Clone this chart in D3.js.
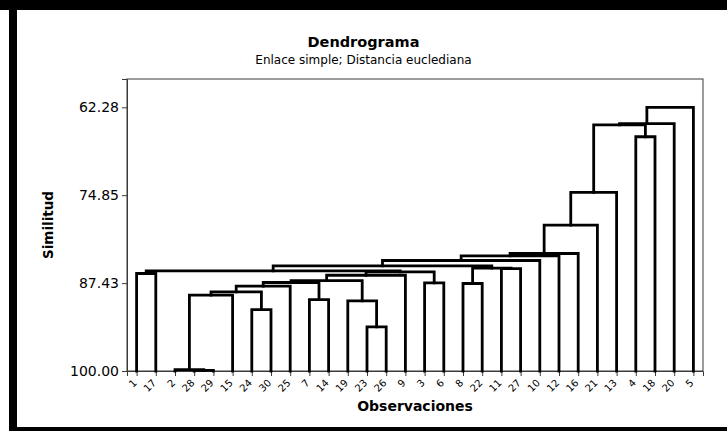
<!DOCTYPE html>
<html>
<head>
<meta charset="utf-8">
<script src="https://cdn.jsdelivr.net/npm/d3@7"></script>
<style>
  html, body { margin: 0; padding: 0; background: #fff; }
  svg { display: block; }
</style>
</head>
<body>
<svg id="chart" width="727" height="431"></svg>
<script>
// ---------------- data ----------------
const leafOrder = ["1","17","2","28","29","15","24","30","25","7","14","19","23","26","9","3","6","8","22","11","27","10","12","16","21","13","4","18","20","5"];
// merges: children are leaf labels or "#k" (k = 1-based merge index)
const mergeLeft  = ["28","2","23","24","19","7","#2","#7","#8","8","3","#9","#12","#13","1","#14","#15","11","#10","#17","#20","#21","#22","#23","#24","4","#25","#27","#28"];
const mergeRight = ["29","#1","26","30","#3","14","15","#4","25","22","6","#6","#5","9","17","#11","#16","27","#18","#19","10","12","16","21","13","18","#26","20","5"];
const mergeSimilarity = [99.9,99.8,93.70,91.21,89.98,89.78,89.16,88.69,87.87,87.48,87.40,87.34,87.08,86.30,86.05,85.82,85.68,85.36,85.29,84.96,84.19,83.53,83.19,79.13,74.45,66.49,64.79,64.60,62.28];
const yTickValues = [62.28, 74.85, 87.43, 100.00];
const yTickLabels = ["62.28", "74.85", "87.43", "100.00"];
const titleText = "Dendrograma";
const subtitleText = "Enlace simple; Distancia euclediana";
const xTitle = "Observaciones";
const yTitle = "Similitud";

// ---------------- layout ----------------
const W = 727, H = 431;
const plot = {left: 127, right: 703, top: 79, bottom: 371};
const svg = d3.select("#chart");
const font = "'DejaVu Sans', Verdana, sans-serif";

// outer black border (top, left, bottom)
const border = svg.append("g").attr("fill", "#000");
border.append("rect").attr("x", 0).attr("y", 0).attr("width", W).attr("height", 10);
border.append("rect").attr("x", 9).attr("y", 0).attr("width", 8).attr("height", H);
border.append("rect").attr("x", 9).attr("y", 427).attr("width", W - 9).attr("height", 4);

const x = d3.scalePoint().domain(leafOrder).range([plot.left, plot.right]).padding(0.5);
const y = d3.scaleLinear().domain([100, 58.23]).range([plot.bottom, plot.top]);

// frame
svg.append("rect")
  .attr("x", plot.left).attr("y", plot.top)
  .attr("width", plot.right - plot.left).attr("height", plot.bottom - plot.top)
  .attr("fill", "none").attr("stroke", "#3a3a3a").attr("stroke-width", 1);

// y axis
const yAxis = d3.axisLeft(y).tickValues(yTickValues).tickSize(5).tickPadding(3)
  .tickFormat((d, i) => yTickLabels[i]);
const gy = svg.append("g").attr("transform", `translate(${plot.left},0)`).call(yAxis);
gy.select(".domain").attr("stroke", "#3a3a3a");
gy.selectAll(".tick line").attr("stroke", "#3a3a3a");
gy.selectAll("text").attr("font-family", font).attr("font-size", 14).attr("fill", "#000");

// x axis
const xAxis = d3.axisBottom(x).tickSize(5).tickPadding(2);
const gx = svg.append("g").attr("transform", `translate(0,${plot.bottom})`).call(xAxis);
gx.select(".domain").attr("stroke", "#3a3a3a");
gx.selectAll(".tick line").attr("stroke", "#3a3a3a");
gx.selectAll("text")
  .attr("font-family", font).attr("font-size", 10).attr("fill", "#000")
  .attr("text-anchor", "end")
  .attr("x", 0).attr("y", 0)
  .attr("dy", "0.35em")
  .attr("transform", "translate(-2,10) rotate(-45)");

// ---------------- dendrogram ----------------
const nodes = {}; // key -> {x, sim}
leafOrder.forEach(l => nodes[l] = {x: x(l), sim: 100});
const links = [];
mergeLeft.forEach((a, i) => {
  const b = mergeRight[i];
  const na = nodes[a], nb = nodes[b];
  const s = mergeSimilarity[i];
  links.push({a: na, b: nb, sim: s});
  nodes["#" + (i + 1)] = {x: (na.x + nb.x) / 2, sim: s};
});

svg.append("g")
  .attr("fill", "none").attr("stroke", "#000").attr("stroke-width", 2.8)
  .attr("stroke-linejoin", "miter").attr("stroke-linecap", "square")
  .selectAll("path").data(links).join("path")
  .attr("d", d => {
    const l = d.a.x <= d.b.x ? d.a : d.b;
    const r = d.a.x <= d.b.x ? d.b : d.a;
    return `M${l.x},${y(l.sim)}V${y(d.sim)}H${r.x}V${y(r.sim)}`;
  });

// ---------------- titles ----------------
svg.append("text").attr("x", W / 2).attr("y", 47).attr("text-anchor", "middle")
  .attr("font-family", font).attr("font-weight", "bold").attr("font-size", 14.5).text(titleText);
svg.append("text").attr("x", W / 2).attr("y", 64).attr("text-anchor", "middle")
  .attr("font-family", font).attr("font-size", 12).text(subtitleText);
svg.append("text").attr("x", (plot.left + plot.right) / 2).attr("y", 411).attr("text-anchor", "middle")
  .attr("font-family", font).attr("font-weight", "bold").attr("font-size", 14).text(xTitle);
svg.append("text").attr("transform", `translate(53,${(plot.top + plot.bottom) / 2}) rotate(-90)`)
  .attr("text-anchor", "middle")
  .attr("font-family", font).attr("font-weight", "bold").attr("font-size", 13.5).text(yTitle);
</script>
</body>
</html>
